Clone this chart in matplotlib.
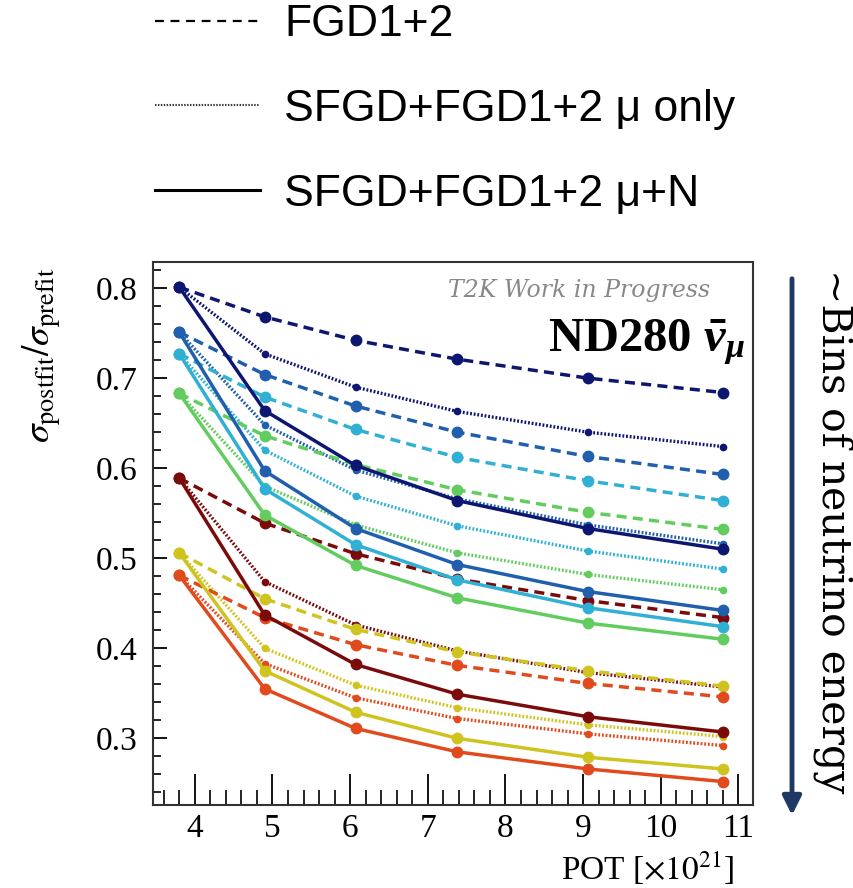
import matplotlib
matplotlib.use("Agg")
import matplotlib.pyplot as plt
from matplotlib.lines import Line2D
from matplotlib.patches import FancyArrowPatch
from matplotlib.ticker import MultipleLocator

plt.rcParams["mathtext.fontset"] = "stix"
plt.rcParams["mathtext.rm"] = "Liberation Serif:bold"
plt.rcParams["mathtext.it"] = "Liberation Serif:bold:italic"
plt.rcParams["mathtext.bf"] = "Liberation Serif:bold"

# POT values (x 1e21)
pot = [3.8, 4.9, 6.07, 7.38, 9.06, 10.8]

# Energy bins, low-to-high on the plot (colour per bin)
bin_colors = ["#0d1670", "#1f5fae", "#2fb0d4", "#62cc5e", "#7b0b0b", "#cfc41f", "#e04a1c"]

# FGD1+2 only
fgd = [
    [0.801, 0.768, 0.742, 0.721, 0.700, 0.684],
    [0.751, 0.704, 0.669, 0.640, 0.613, 0.593],
    [0.727, 0.679, 0.643, 0.612, 0.586, 0.564],
    [0.683, 0.636, 0.604, 0.576, 0.551, 0.532],
    [0.589, 0.539, 0.505, 0.477, 0.453, 0.434],
    [0.506, 0.455, 0.421, 0.396, 0.375, 0.358],
    [0.481, 0.434, 0.404, 0.381, 0.361, 0.346],
]
# SFGD+FGD1+2, muon only
sfgd_mu = [
    [0.801, 0.727, 0.690, 0.663, 0.640, 0.624],
    [0.751, 0.648, 0.598, 0.566, 0.537, 0.516],
    [0.727, 0.620, 0.569, 0.536, 0.508, 0.488],
    [0.683, 0.580, 0.537, 0.506, 0.482, 0.465],
    [0.589, 0.474, 0.426, 0.397, 0.373, 0.357],
    [0.506, 0.400, 0.359, 0.334, 0.315, 0.302],
    [0.481, 0.383, 0.345, 0.322, 0.305, 0.292],
]
# SFGD+FGD1+2, muon + nucleon
sfgd_mun = [
    [0.801, 0.664, 0.603, 0.564, 0.533, 0.510],
    [0.751, 0.597, 0.533, 0.493, 0.463, 0.442],
    [0.727, 0.577, 0.515, 0.476, 0.445, 0.424],
    [0.683, 0.548, 0.492, 0.456, 0.428, 0.410],
    [0.589, 0.437, 0.382, 0.349, 0.324, 0.307],
    [0.506, 0.375, 0.329, 0.300, 0.279, 0.266],
    [0.481, 0.355, 0.311, 0.285, 0.266, 0.252],
]

legend_labels = ["FGD1+2", "SFGD+FGD1+2 \u03bc only", "SFGD+FGD1+2 \u03bc+N"]

fig = plt.figure(figsize=(8.54, 8.88), dpi=100)
ax = fig.add_axes([0.179, 0.0935, 0.703, 0.6115])

dash_style = (0, (2.9, 1.8))
dot_style = (0, (0.55, 0.55))

for c, a, b, s in zip(bin_colors, fgd, sfgd_mu, sfgd_mun):
    ax.plot(pot, a, linestyle=dash_style, color=c, lw=2.5, marker="o", ms=7.5, zorder=3)
    ax.plot(pot, b, linestyle=dot_style, color=c, lw=2.4, marker="o", ms=4.5, zorder=2)
    ax.plot(pot, s, linestyle="-", color=c, lw=2.5, marker="o", ms=7.5, zorder=4)

ax.set_xlim(3.46, 11.19)
ax.set_ylim(0.226, 0.829)
ax.xaxis.set_major_locator(MultipleLocator(1))
ax.xaxis.set_minor_locator(MultipleLocator(0.2))
ax.yaxis.set_major_locator(MultipleLocator(0.1))
ax.yaxis.set_minor_locator(MultipleLocator(0.02))
ax.tick_params(axis="x", which="major", direction="in", length=22, width=1.3, pad=6)
ax.tick_params(axis="x", which="minor", direction="in", length=11, width=1.2)
ax.tick_params(axis="y", which="major", direction="in", length=10, width=1.3, pad=11)
ax.tick_params(axis="y", which="minor", direction="in", length=6, width=1.2)
for lab in ax.get_xticklabels() + ax.get_yticklabels():
    lab.set_fontfamily("Liberation Serif")
    lab.set_fontsize(24)
for sp in ax.spines.values():
    sp.set_linewidth(1.5)
    sp.set_color("#333333")

ax.text(0.928, 0.948, "T2K Work in Progress", transform=ax.transAxes, ha="right", va="center",
        fontsize=17, style="italic", color="#888888", family="DejaVu Serif")
ax.text(0.987, 0.853, r"$\mathrm{ND280}\ \bar{\nu}_{\mu}$", transform=ax.transAxes,
        ha="right", va="center", fontsize=35, math_fontfamily="custom")

fig.text(42 / 854, 1 - 355 / 888, r"$\sigma_{\mathrm{postfit}}/\sigma_{\mathrm{prefit}}$",
         rotation=90, ha="center", va="center", fontsize=27, math_fontfamily="stix")
fig.text(648 / 854, 1 - 868 / 888, r"POT [$\times10^{21}$]", ha="center", va="center",
         fontsize=24, family="Liberation Serif", math_fontfamily="stix")

fig.text(833 / 854, 1 - 531 / 888, "~Bins of neutrino energy", rotation=270,
         ha="center", va="center", fontsize=29.5, family="DejaVu Serif")
fig.add_artist(FancyArrowPatch((792 / 854, 1 - 276 / 888), (792 / 854, 1 - 818 / 888),
                               transform=fig.transFigure, arrowstyle="-|>",
                               mutation_scale=28, lw=3.5, color="#1f3864"))

handles = [
    Line2D([], [], color="black", lw=1.6, linestyle=(0, (4, 3))),
    Line2D([], [], color="#333333", lw=1.5, linestyle=(0, (0.7, 0.7))),
    Line2D([], [], color="black", lw=2.2, linestyle="-"),
]
fig.legend(handles, legend_labels, loc="upper left", bbox_to_anchor=(0.135, 1.04),
           frameon=False, handlelength=2.35, handletextpad=0.55,
           labelspacing=0.98, prop={"family": "Liberation Sans", "size": 32})

fig.savefig("out.png", dpi=100)
